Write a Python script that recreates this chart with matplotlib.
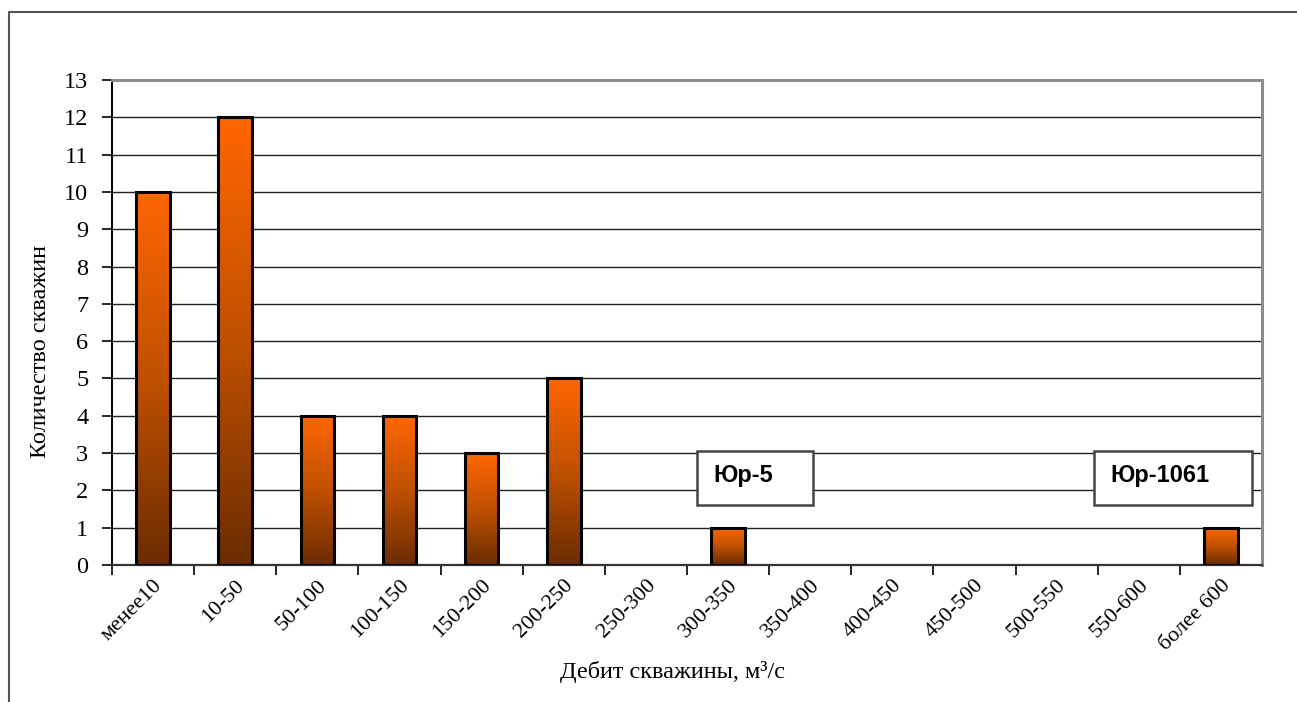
# Well yield distribution histogram
import numpy as np
import matplotlib.pyplot as plt
import matplotlib.patches as patches
from matplotlib.colors import LinearSegmentedColormap

categories = ['менее10', '10-50', '50-100', '100-150', '150-200', '200-250',
              '250-300', '300-350', '350-400', '400-450', '450-500', '500-550',
              '550-600', 'более 600']
counts = [10, 12, 4, 4, 3, 5, 0, 1, 0, 0, 0, 0, 0, 1]

# labelled wells: (text, category index of the well)
wells = [('Юр-5', 7), ('Юр-1061', 13)]

plt.rcParams['font.family'] = ['Liberation Serif', 'DejaVu Serif']

fig = plt.figure(figsize=(12.97, 7.02), dpi=100)
ax = fig.add_axes([112/1297, 137/702, 1150/1297, 485/702])

# orange-to-brown fill, running over each bar's own height
cmap = LinearSegmentedColormap.from_list('bar', ['#6b2c00', '#c05000', '#ff6600'])
grad = np.linspace(0, 1, 256).reshape(-1, 1)
width = 0.41
x = np.arange(len(categories))
for xi, h in zip(x, counts):
    if h == 0:
        continue
    ax.imshow(grad, cmap=cmap, origin='lower', aspect='auto',
              extent=[xi - width/2, xi + width/2, 0, h], zorder=3)
    ax.add_patch(patches.Rectangle((xi - width/2, 0), width, h, fill=False,
                                   edgecolor='black', linewidth=2.2, zorder=4))

ax.set_xlim(-0.5, len(categories) - 0.5)
ax.set_ylim(0, 13)
ax.set_yticks(range(0, 14))
ax.tick_params(axis='y', labelsize=17.5, length=7, pad=10, direction='out', width=1.2)
ax.set_xticks(x - 0.5, minor=True)
ax.set_xticks(x)
ax.set_xticklabels(categories, rotation=45, ha='right', rotation_mode='anchor', fontsize=16)
ax.tick_params(axis='x', which='major', length=0, pad=8)
ax.tick_params(axis='x', which='minor', length=7, width=1.2)
ax.grid(axis='y', color='#222222', linewidth=1.0, zorder=1)
ax.set_axisbelow(True)

for side in ['top', 'right']:
    ax.spines[side].set_color('#8c8c8c')
    ax.spines[side].set_linewidth(2.2)
ax.spines['left'].set_linewidth(1.4)
ax.spines['bottom'].set_linewidth(1.6)
ax.spines['bottom'].set_color('#333333')

ax.set_ylabel('Количество скважин', fontsize=17.5, va='center')
ax.yaxis.set_label_coords(-0.0626, 0.44)
ax.set_xlabel('Дебит скважины, м³/с', fontsize=17.5, va='center')
ax.xaxis.set_label_coords(0.487, -0.22)

# callout boxes above the single far-out wells
box_w = {'Юр-5': 1.42, 'Юр-1061': 1.93}
for name, idx in wells:
    w = box_w[name]
    x0 = idx - 0.38 if idx < len(categories) - 1 else idx - 1.55
    ax.add_patch(patches.Rectangle((x0, 1.62), w, 1.43, facecolor='white',
                                   edgecolor='#444444', linewidth=1.8, zorder=5))
    ax.text(x0 + 0.2, 2.4, name, fontsize=17, fontweight='bold',
            family=['Liberation Sans', 'DejaVu Sans'], va='center', ha='left', zorder=6)

# outer chart frame
fig.add_artist(plt.Line2D([9/1297, 9/1297, 1.0], [0.0, 1 - 12/702, 1 - 12/702],
                          color='#555555', linewidth=1.5))

plt.savefig('out.png', dpi=100)
